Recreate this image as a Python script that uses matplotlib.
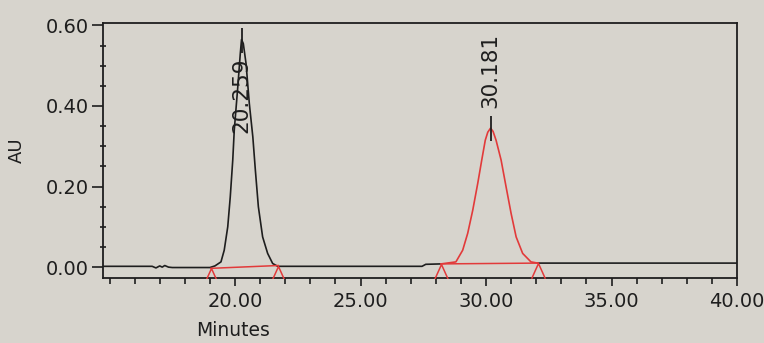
import numpy as np
import matplotlib
matplotlib.use("Agg")
import matplotlib.pyplot as plt
from matplotlib.path import Path
from matplotlib.ticker import MultipleLocator, FormatStrFormatter

# ---- data ----
# black detector trace (NaN = gap where the red integrated peak is drawn)
trace_t = [14.74, 16.7, 16.85, 17.0, 17.1, 17.2, 17.35, 17.5, 19.0, 19.2, 19.44,
           19.57, 19.71, 19.81, 19.91, 19.97, 20.11, 20.21, 20.259, 20.33, 20.44, 20.57,
           20.71, 20.81, 20.93, 21.10, 21.30, 21.50, 21.70, 27.45, 27.6, 28.21,
           np.nan, 32.06, 40.0]
trace_au = [0.002, 0.002, -0.002, 0.003, 0.0, 0.004, 0.0, -0.001, -0.001, 0.003, 0.013,
            0.042, 0.100, 0.174, 0.266, 0.340, 0.447, 0.530, 0.565, 0.555, 0.505, 0.406,
            0.323, 0.241, 0.150, 0.075, 0.034, 0.009, 0.002, 0.002, 0.007, 0.008,
            np.nan, 0.010, 0.010]

# red integrated peak 2 trace
peak2_t = [28.21, 28.80, 29.07, 29.27, 29.47, 29.67, 29.83, 29.97, 30.07, 30.181,
           30.28, 30.40, 30.60, 30.80, 31.00, 31.20, 31.46, 31.79, 32.06]
peak2_au = [0.008, 0.013, 0.042, 0.084, 0.141, 0.208, 0.266, 0.315, 0.335, 0.345,
            0.337, 0.315, 0.266, 0.199, 0.133, 0.075, 0.034, 0.013, 0.010]

# integration baselines (start, end) for each peak
base_t = [[19.04, 21.72], [28.21, 32.06]]
base_au = [[-0.003, 0.004], [0.008, 0.010]]

# peak apexes and labels
apex_t = [20.259, 30.181]
apex_au = [0.565, 0.345]
apex_labels = ["20.259", "30.181"]
label_au = [0.332, 0.395]

xticks = [20, 25, 30, 35, 40]
yticks = [0.0, 0.2, 0.4, 0.6]

# ---- style ----
bg = "#d7d4cd"
black = "#1e1e1e"
red = "#e23a3a"

fig = plt.figure(figsize=(7.64, 3.43), dpi=100, facecolor=bg)
ax = fig.add_axes([0.1348, 0.1895, 0.9647 - 0.1348, 0.9329 - 0.1895], facecolor=bg)

ax.plot(trace_t, trace_au, color=black, lw=1.2, zorder=3)
ax.plot(peak2_t, peak2_au, color=red, lw=1.2, zorder=4)

# integration baseline markers (open caret with apex at boundary point)
caret = Path([(-0.45, -1.0), (0.0, 0.0), (0.45, -1.0)],
             [Path.MOVETO, Path.LINETO, Path.LINETO])
for bt, ba in zip(base_t, base_au):
    ax.plot(bt, ba, color=red, lw=1.1, zorder=4)
    ax.plot(bt, ba, linestyle="none", marker=caret, markersize=22,
            markeredgecolor=red, markerfacecolor="none", markeredgewidth=1.1,
            zorder=4)

# apex tick marks and retention-time labels
ax.plot(apex_t, apex_au, linestyle="none", marker="|", markersize=18,
        markeredgecolor=black, markeredgewidth=1.3, zorder=5)
for t, ly, lab in zip(apex_t, label_au, apex_labels):
    ax.text(t, ly, lab, rotation=90, ha="center", va="bottom",
            fontsize=15.5, color=black, family="DejaVu Sans", zorder=6)

ax.set_xlim(14.74, 40.0)
ax.set_ylim(-0.027, 0.606)
ax.set_xticks(xticks)
ax.set_yticks(yticks)
ax.xaxis.set_major_formatter(FormatStrFormatter("%.2f"))
ax.yaxis.set_major_formatter(FormatStrFormatter("%.2f"))
ax.xaxis.set_minor_locator(MultipleLocator(1))
ax.yaxis.set_minor_locator(MultipleLocator(0.05))

ax.tick_params(axis="both", which="major", direction="out", length=6, width=1.2,
               color=black, labelsize=14, labelcolor=black)
ax.tick_params(axis="x", which="major", pad=4)
ax.tick_params(axis="y", which="major", length=8, pad=2)
ax.tick_params(axis="x", which="minor", direction="out", length=4, width=1.2, color=black)
ax.tick_params(axis="y", which="minor", direction="inout", length=4, width=1.2, color=black)

for s in ax.spines.values():
    s.set_color(black)
    s.set_linewidth(1.3)

ax.set_xlabel("Minutes", fontsize=13.5, color=black)
ax.xaxis.set_label_coords((20.0 - 14.74) / (40.0 - 14.74) - 0.003, -0.17)
ax.xaxis.label.set_va("top")
ax.set_ylabel("AU", fontsize=13, color=black)
ax.yaxis.set_label_coords(-0.121, 0.5)

fig.savefig("out.png", dpi=100, facecolor=bg)
